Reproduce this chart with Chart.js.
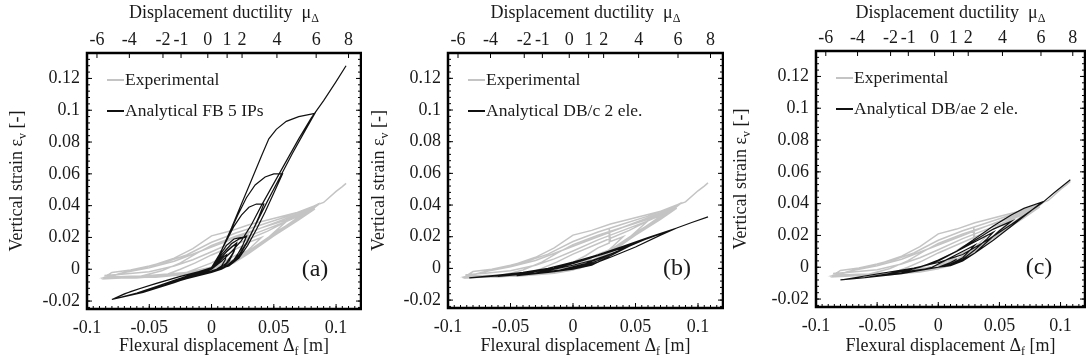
<!DOCTYPE html>
<html>
<head>
<meta charset="utf-8">
<script src="https://cdn.jsdelivr.net/npm/chart.js@4.4.1/dist/chart.umd.min.js"></script>
<style>
  body { margin: 0; background: #fff; }
  #wrap { position: relative; width: 1086px; height: 364px; }
  #wrap canvas { position: absolute; top: 0; }
</style>
</head>
<body>
<div id="wrap">
  <canvas id="panelA" width="362" height="364" style="left:0;width:362px;height:364px"></canvas>
  <canvas id="panelB" width="362" height="364" style="left:362px;width:362px;height:364px"></canvas>
  <canvas id="panelC" width="362" height="364" style="left:724px;width:362px;height:364px"></canvas>
</div>
<script>
// axis ticks
const dispTicks = [-0.1, -0.05, 0, 0.05, 0.1];
const strainTicks = [-0.02, 0, 0.02, 0.04, 0.06, 0.08, 0.1, 0.12];
const ductilityLabels = ['-6', '-4', '-2', '-1', '0', '1', '2', '4', '6', '8'];
const ductilityDisp = [-0.092, -0.066, -0.039, -0.0245, -0.003, 0.0125, 0.0245, 0.0525, 0.084, 0.11];

// measured response: [flexural displacement (m), vertical strain (-)]
const expCurve = [
  [0, 0], [0.008, 0.003], [0.015, 0.006], [0.008, 0.003], [0, 0], [-0.008, -0.002], [-0.015, -0.003],
  [-0.008, -0.001], [0.002, 0.002], [0.01, 0.005], [0.02, 0.009], [0.03, 0.012],
  [0.022, 0.007], [0.012, 0.003], [0, -0.001], [-0.015, -0.003], [-0.03, -0.004],
  [-0.02, -0.002], [-0.01, 0.001], [0, 0.004], [0.01, 0.008], [0.02, 0.013], [0.029, 0.016], [0.029, 0.025], [0.03, 0.017], [0.04, 0.02],
  [0.032, 0.014], [0.022, 0.007], [0.01, 0.002], [-0.01, -0.002], [-0.03, -0.004], [-0.045, -0.005],
  [-0.035, -0.003], [-0.025, 0], [-0.013, 0.004], [0, 0.009], [0.015, 0.014], [0.03, 0.019], [0.045, 0.024], [0.06, 0.03],
  [0.05, 0.023], [0.04, 0.016], [0.03, 0.01], [0.018, 0.004], [0.005, 0], [-0.02, -0.003], [-0.04, -0.004], [-0.06, -0.005],
  [-0.05, -0.003], [-0.04, -0.001], [-0.025, 0.004], [-0.012, 0.01], [0, 0.015], [0.02, 0.021], [0.04, 0.026], [0.06, 0.031], [0.072, 0.035], [0.083, 0.039],
  [0.075, 0.034], [0.06, 0.027], [0.045, 0.019], [0.03, 0.011], [0.015, 0.004], [0, 0], [-0.03, -0.003], [-0.06, -0.005], [-0.085, -0.006],
  [-0.075, -0.003], [-0.06, 0], [-0.045, 0.003], [-0.03, 0.007], [-0.015, 0.013], [0, 0.021], [0.015, 0.024], [0.03, 0.028], [0.045, 0.031], [0.06, 0.034], [0.075, 0.037], [0.083, 0.04],
  [0.07, 0.032], [0.055, 0.025], [0.04, 0.017], [0.025, 0.009], [0.01, 0.003], [-0.02, -0.002], [-0.05, -0.004], [-0.085, -0.005],
  [-0.07, -0.002], [-0.05, 0.001], [-0.03, 0.005], [-0.01, 0.011], [0, 0.014], [0.02, 0.02], [0.04, 0.026], [0.06, 0.032], [0.083, 0.039],
  [0.07, 0.033], [0.05, 0.022], [0.035, 0.014], [0.02, 0.006], [0, -0.001], [-0.03, -0.004], [-0.06, -0.0055], [-0.086, -0.004],
  [-0.07, -0.003], [-0.05, -0.0015], [-0.03, 0.002], [-0.015, 0.006], [0, 0.011], [0.02, 0.018], [0.04, 0.024], [0.06, 0.03], [0.083, 0.038],
  [0.07, 0.031], [0.05, 0.021], [0.03, 0.01], [0.01, 0.002], [-0.02, -0.003], [-0.05, -0.005], [-0.087, -0.0055],
  [-0.08, -0.002], [-0.065, -0.0005], [-0.05, 0.002], [-0.035, 0.005], [-0.02, 0.009], [0, 0.017], [0.02, 0.023], [0.04, 0.028], [0.06, 0.033], [0.083, 0.04],
  [0.09, 0.042], [0.1, 0.049], [0.105, 0.052], [0.108, 0.054]
];

// force-based element, 5 integration points
const fbCurve = [
  [0, 0], [0.004, 0.003], [0.01, 0.008], [0.012, 0.009],
  [0.011, 0.006], [0.008, 0.002], [0.004, 0], [0, -0.001], [-0.006, -0.002], [-0.012, -0.0035],
  [-0.006, -0.0015], [0, 0], [0.005, 0.005], [0.012, 0.011], [0.018, 0.015], [0.02, 0.016],
  [0.018, 0.011], [0.014, 0.005], [0.009, 0.001], [0.004, -0.0005], [-0.005, -0.002], [-0.015, -0.004], [-0.022, -0.006],
  [-0.01, -0.0025], [0, 0.0005], [0.006, 0.006], [0.013, 0.012], [0.02, 0.0165],
  [0.017, 0.01], [0.012, 0.004], [0.006, 0.0005], [0, -0.0015], [-0.012, -0.0035], [-0.022, -0.0062],
  [-0.012, -0.003], [-0.004, -0.0005], [0, 0.001], [0.006, 0.008], [0.012, 0.015], [0.018, 0.019], [0.024, 0.02], [0.028, 0.021],
  [0.025, 0.015], [0.02, 0.008], [0.015, 0.003], [0.008, 0], [0, -0.002], [-0.015, -0.0045], [-0.03, -0.008], [-0.04, -0.0105],
  [-0.025, -0.0062], [-0.012, -0.0025], [0, 0.0005], [0.008, 0.009], [0.016, 0.016], [0.022, 0.019], [0.028, 0.0205],
  [0.024, 0.013], [0.018, 0.006], [0.01, 0.001], [0, -0.0018], [-0.02, -0.0058], [-0.04, -0.0108],
  [-0.03, -0.0075], [-0.02, -0.0045], [-0.01, -0.0015], [0, 0.001], [0.006, 0.009], [0.012, 0.018], [0.018, 0.027], [0.024, 0.034], [0.03, 0.039], [0.036, 0.041], [0.042, 0.041],
  [0.038, 0.033], [0.033, 0.024], [0.028, 0.016], [0.022, 0.008], [0.015, 0.003], [0.007, 0], [0, -0.002], [-0.02, -0.006], [-0.04, -0.0105], [-0.06, -0.015],
  [-0.045, -0.011], [-0.03, -0.007], [-0.015, -0.003], [0, 0], [0.007, 0.01], [0.014, 0.022], [0.021, 0.034], [0.028, 0.045], [0.035, 0.053], [0.043, 0.058], [0.05, 0.06], [0.057, 0.06],
  [0.05, 0.048], [0.043, 0.036], [0.036, 0.025], [0.029, 0.015], [0.022, 0.007], [0.014, 0.002], [0.005, 0], [-0.01, -0.003], [-0.03, -0.008], [-0.05, -0.013], [-0.07, -0.017], [-0.08, -0.019],
  [-0.07, -0.0155], [-0.055, -0.0115], [-0.04, -0.008], [-0.025, -0.0045], [-0.01, -0.0015], [0, 0], [0.008, 0.012], [0.016, 0.026], [0.024, 0.041], [0.032, 0.056], [0.04, 0.071], [0.046, 0.082], [0.052, 0.088], [0.06, 0.093], [0.07, 0.096], [0.083, 0.098],
  [0.075, 0.087], [0.065, 0.073], [0.055, 0.058], [0.045, 0.043], [0.036, 0.029], [0.029, 0.018], [0.022, 0.009], [0.014, 0.003], [0.005, 0], [-0.01, -0.003], [-0.03, -0.0085], [-0.055, -0.0145], [-0.08, -0.019],
  [-0.065, -0.014], [-0.045, -0.009], [-0.025, -0.0045], [-0.01, -0.0015], [0, 0], [0.008, 0.005], [0.016, 0.011], [0.024, 0.018], [0.032, 0.028], [0.04, 0.04], [0.05, 0.054], [0.06, 0.068], [0.07, 0.082], [0.08, 0.095], [0.09, 0.106], [0.1, 0.118], [0.108, 0.128]
];

// displacement-based element with constant axial strain, 2 elements
const dbcCurve = [
  [0, 0], [0.01, 0.002], [0.015, 0.004], [0.005, 0.0015], [-0.01, -0.0015], [-0.015, -0.002],
  [-0.005, 0], [0.01, 0.003], [0.02, 0.006], [0.03, 0.009],
  [0.02, 0.005], [0.01, 0.002], [0, 0], [-0.02, -0.002], [-0.03, -0.003],
  [-0.015, -0.0005], [0, 0.002], [0.015, 0.005], [0.03, 0.009], [0.045, 0.014],
  [0.035, 0.01], [0.025, 0.006], [0.015, 0.002], [0, -0.0005], [-0.02, -0.0025], [-0.045, -0.0045],
  [-0.03, -0.002], [-0.015, 0], [0, 0.003], [0.02, 0.008], [0.04, 0.013], [0.06, 0.019],
  [0.045, 0.014], [0.03, 0.008], [0.02, 0.004], [0.01, 0.0015], [0, 0], [-0.03, -0.003], [-0.06, -0.005],
  [-0.04, -0.003], [-0.02, 0], [0, 0.0035], [0.02, 0.008], [0.04, 0.0135], [0.06, 0.019], [0.083, 0.0255],
  [0.07, 0.021], [0.05, 0.0135], [0.03, 0.007], [0.015, 0.0025], [0, 0], [-0.03, -0.003], [-0.06, -0.0048], [-0.083, -0.006],
  [-0.06, -0.0042], [-0.04, -0.0025], [-0.02, 0], [0, 0.004], [0.02, 0.0085], [0.04, 0.014], [0.06, 0.0195], [0.083, 0.0255], [0.095, 0.029], [0.108, 0.0325]
];

// displacement-based element with average axial strain, 2 elements
const dbaeCurve = [
  [0, 0], [0.01, 0.003], [0.015, 0.005], [0.008, 0.002], [0, 0], [-0.015, -0.002],
  [-0.005, 0], [0.005, 0.004], [0.015, 0.008], [0.025, 0.012], [0.03, 0.014],
  [0.025, 0.01], [0.02, 0.006], [0.01, 0.002], [0, 0], [-0.03, -0.003],
  [-0.015, 0], [0, 0.004], [0.01, 0.008], [0.02, 0.012], [0.03, 0.016], [0.045, 0.022],
  [0.04, 0.018], [0.03, 0.011], [0.02, 0.005], [0.01, 0.0015], [0, 0], [-0.02, -0.0025], [-0.045, -0.005],
  [-0.03, -0.002], [-0.015, 0], [0, 0.0045], [0.015, 0.01], [0.03, 0.017], [0.045, 0.024], [0.06, 0.029],
  [0.05, 0.023], [0.04, 0.016], [0.03, 0.009], [0.02, 0.004], [0.01, 0.001], [0, 0], [-0.03, -0.0035], [-0.06, -0.0065],
  [-0.04, -0.004], [-0.02, -0.001], [0, 0.004], [0.015, 0.01], [0.03, 0.018], [0.045, 0.026], [0.06, 0.033], [0.07, 0.037], [0.085, 0.041],
  [0.075, 0.035], [0.06, 0.026], [0.045, 0.017], [0.03, 0.009], [0.02, 0.0045], [0.01, 0.0015], [0, 0], [-0.03, -0.004], [-0.06, -0.0065], [-0.08, -0.008],
  [-0.06, -0.0055], [-0.04, -0.003], [-0.02, -0.0005], [0, 0.003], [0.02, 0.008], [0.04, 0.017], [0.06, 0.027], [0.085, 0.0405], [0.095, 0.047], [0.108, 0.055]
];

const FONT = '"Liberation Serif", "Times New Roman", serif';
const GRAY = '#c4c4c4';
const BLACK = '#111111';

// writes a run of text pieces, some of them as subscripts, centred on x
function drawRich(ctx, parts, x, y) {
  const widths = parts.map(([t, sub]) => {
    ctx.font = (sub ? '12px ' : '18px ') + FONT;
    return ctx.measureText(t).width;
  });
  let cx = x - widths.reduce((s, w) => s + w, 0) / 2;
  parts.forEach(([t, sub], i) => {
    ctx.font = (sub ? '12px ' : '18px ') + FONT;
    ctx.fillText(t, cx, y + (sub ? 6 : 0));
    cx += widths[i];
  });
}

const panelDecor = {
  id: 'panelDecor',
  afterDraw(chart, args, opts) {
    const { ctx, chartArea: a, scales } = chart;
    const x = scales.x, y = scales.y, top = scales.xTop;
    ctx.save();
    ctx.strokeStyle = '#000';
    ctx.lineWidth = 1;
    ctx.beginPath();
    // minor ticks, pointing inward
    for (let i = Math.ceil(x.min / 0.005); i * 0.005 <= x.max + 1e-9; i++) {
      const px = x.getPixelForValue(i * 0.005);
      ctx.moveTo(px, a.bottom); ctx.lineTo(px, a.bottom - 3);
    }
    for (let i = Math.ceil(y.min / 0.004); i * 0.004 <= y.max + 1e-9; i++) {
      const py = y.getPixelForValue(i * 0.004);
      ctx.moveTo(a.left, py); ctx.lineTo(a.left + 3, py);
      ctx.moveTo(a.right, py); ctx.lineTo(a.right - 3, py);
    }
    // major ticks
    dispTicks.forEach(v => {
      const px = x.getPixelForValue(v);
      ctx.moveTo(px, a.bottom); ctx.lineTo(px, a.bottom - 5);
    });
    ductilityDisp.forEach(v => {
      const px = top.getPixelForValue(v);
      ctx.moveTo(px, a.top); ctx.lineTo(px, a.top + 5);
    });
    strainTicks.forEach(v => {
      const py = y.getPixelForValue(v);
      ctx.moveTo(a.left, py); ctx.lineTo(a.left + 5, py);
      ctx.moveTo(a.right, py); ctx.lineTo(a.right - 5, py);
    });
    ctx.stroke();

    // frame
    ctx.lineWidth = 2.5;
    ctx.strokeRect(a.left, a.top, a.right - a.left, a.bottom - a.top);

    // axis titles
    ctx.fillStyle = '#1a1a1a';
    ctx.textAlign = 'left';
    ctx.textBaseline = 'middle';
    const cx = (a.left + a.right) / 2;
    drawRich(ctx, [['Displacement ductility  \u03bc', false], ['\u0394', true]], cx, 13);
    drawRich(ctx, [['Flexural displacement \u0394', false], ['f', true], [' [m]', false]], cx, 346);
    ctx.save();
    ctx.translate(17, (a.top + a.bottom) / 2);
    ctx.rotate(-Math.PI / 2);
    drawRich(ctx, [['Vertical strain \u03b5', false], ['v', true], [' [-]', false]], 0, 0);
    ctx.restore();

    // legend inside the frame
    chart.data.datasets.forEach((ds, i) => {
      const ly = a.top + 27 + i * 31;
      ctx.strokeStyle = ds.borderColor;
      ctx.lineWidth = 2;
      ctx.beginPath();
      ctx.moveTo(a.left + 20, ly); ctx.lineTo(a.left + 37, ly);
      ctx.stroke();
      ctx.font = '17.5px ' + FONT;
      ctx.fillStyle = '#1a1a1a';
      ctx.fillText(ds.label, a.left + 38, ly);
    });

    // panel tag
    ctx.font = '24px ' + FONT;
    ctx.textAlign = 'center';
    ctx.fillText(opts.tag, a.right - 46, a.bottom - 39);
    ctx.restore();
  }
};

function pts(list) {
  return list.map(([x, y]) => ({ x, y }));
}

function makePanel(id, analytical, label, tag, box) {
  const tickFont = { family: FONT, size: 18 };
  new Chart(document.getElementById(id), {
    type: 'scatter',
    data: {
      datasets: [
        { label: 'Experimental', data: pts(expCurve), showLine: true, borderColor: GRAY, borderWidth: 1.5, pointRadius: 0, order: 2 },
        { label: label, data: pts(analytical), showLine: true, borderColor: BLACK, borderWidth: 1.2, pointRadius: 0, order: 1 }
      ]
    },
    options: {
      responsive: false,
      animation: false,
      devicePixelRatio: 1,
      layout: { padding: { left: 0, right: 1, top: 0, bottom: 0 } },
      plugins: { legend: { display: false }, tooltip: { enabled: false }, panelDecor: { tag } },
      scales: {
        x: {
          type: 'linear', position: 'bottom', min: -0.1, max: 0.12,
          afterBuildTicks: s => { s.ticks = dispTicks.map(v => ({ value: v })); },
          afterFit: s => { s.height = box.bottom; },
          grid: { display: false, drawTicks: false }, border: { display: false },
          ticks: { font: tickFont, color: '#1a1a1a', padding: 8, maxRotation: 0, autoSkip: false, callback: v => String(v) }
        },
        xTop: {
          type: 'linear', position: 'top', min: -0.1, max: 0.12,
          afterBuildTicks: s => { s.ticks = ductilityDisp.map(v => ({ value: v })); },
          afterFit: s => { s.height = box.top; },
          grid: { display: false, drawTicks: false }, border: { display: false },
          ticks: { font: tickFont, color: '#1a1a1a', padding: 2, maxRotation: 0, autoSkip: false,
                   callback: (v, i) => ductilityLabels[i] }
        },
        y: {
          type: 'linear', position: 'left', min: -0.025, max: 0.136,
          afterBuildTicks: s => { s.ticks = strainTicks.map(v => ({ value: v })); },
          afterFit: s => { s.width = box.left; },
          grid: { display: false, drawTicks: false }, border: { display: false },
          ticks: { font: tickFont, color: '#1a1a1a', padding: 7, callback: v => String(v) }
        }
      }
    },
    plugins: [panelDecor]
  });
}

makePanel('panelA', fbCurve, 'Analytical FB 5 IPs', '(a)', { left: 87, top: 53, bottom: 55 });
makePanel('panelB', dbcCurve, 'Analytical DB/c 2 ele.', '(b)', { left: 86, top: 53, bottom: 56 });
makePanel('panelC', dbaeCurve, 'Analytical DB/ae 2 ele.', '(c)', { left: 92, top: 51, bottom: 57 });
</script>
</body>
</html>
